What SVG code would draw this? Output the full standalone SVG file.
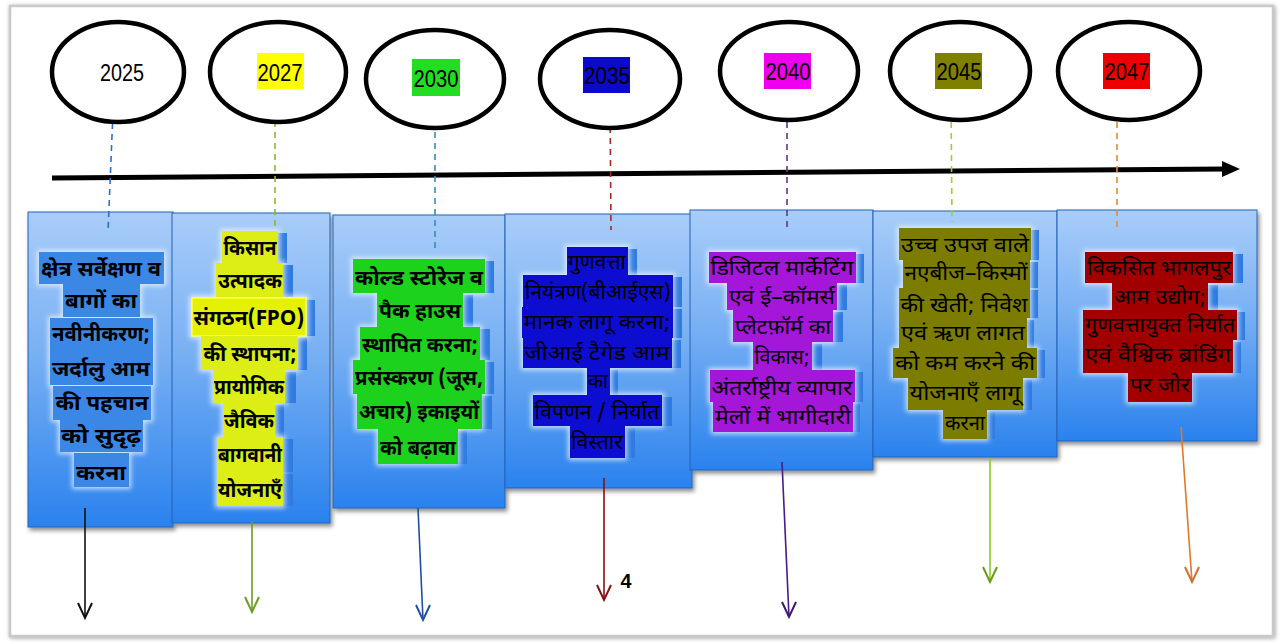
<svg xmlns="http://www.w3.org/2000/svg" width="1284" height="644" viewBox="0 0 1284 644">
<defs>
  <linearGradient id="boxg" x1="0" y1="0" x2="0" y2="1">
    <stop offset="0" stop-color="#a9cdf9"/>
    <stop offset="0.45" stop-color="#78b0f3"/>
    <stop offset="1" stop-color="#2a82ee"/>
  </linearGradient>
  <filter id="boxsh" x="-5%" y="-5%" width="115%" height="115%">
    <feGaussianBlur in="SourceAlpha" stdDeviation="2"/>
    <feOffset dx="2" dy="3" result="b"/>
    <feFlood flood-color="#000" flood-opacity="0.45"/>
    <feComposite in2="b" operator="in" result="s"/>
    <feMerge><feMergeNode in="s"/><feMergeNode in="SourceGraphic"/></feMerge>
  </filter>
  <filter id="glow" x="-10%" y="-10%" width="120%" height="120%">
    <feMorphology in="SourceAlpha" operator="dilate" radius="2"/>
    <feGaussianBlur stdDeviation="2.5" result="g"/>
    <feFlood flood-color="#e8f3ff" flood-opacity="0.8"/>
    <feComposite in2="g" operator="in" result="w"/>
    <feMerge><feMergeNode in="w"/><feMergeNode in="SourceGraphic"/></feMerge>
  </filter>
  <filter id="pagesh" x="-2%" y="-2%" width="104%" height="104%">
    <feGaussianBlur in="SourceAlpha" stdDeviation="2"/>
    <feOffset dx="1" dy="1" result="b"/>
    <feFlood flood-color="#777" flood-opacity="0.7"/>
    <feComposite in2="b" operator="in" result="s"/>
    <feMerge><feMergeNode in="s"/><feMergeNode in="SourceGraphic"/></feMerge>
  </filter>
</defs>
<style>
  .dv{font-family:"Noto Sans Devanagari","Lohit Devanagari","FreeSans","Noto Sans",sans-serif;font-size:20px;fill:#000;text-anchor:middle}
  .b{font-weight:bold;font-size:21px}
  .yr{font-family:"Liberation Sans Narrow","Liberation Sans",Arial,sans-serif;font-size:24px;fill:#000;text-anchor:middle}
  .ell{fill:#fff;stroke:#000;stroke-width:4.5}
  .box{fill:url(#boxg);stroke:#2563b8;stroke-width:1}
  .sh{fill:#2f7be0}
  .dash{fill:none;stroke-width:1.6;stroke-dasharray:6 5}
  .arr{fill:none;stroke-width:1.6}
  .head{fill:none;stroke-width:2;stroke-linejoin:miter}
</style>

<rect x="0" y="0" width="1284" height="644" fill="#fff"/>
<g id="page"><rect x="10" y="6" width="1263" height="630" fill="#fff" stroke="#c9c9c9" stroke-width="2.5" filter="url(#pagesh)"/></g>

<g id="boxes" filter="url(#boxsh)">
  <rect id="box1" class="box" x="28" y="212" width="145" height="315"/>
  <rect id="box2" class="box" x="172" y="213" width="158" height="310"/>
  <rect id="box3" class="box" x="333" y="215" width="172" height="293"/>
  <rect id="box4" class="box" x="505" y="214" width="187" height="274"/>
  <rect id="box5" class="box" x="690" y="210" width="183" height="260"/>
  <rect id="box6" class="box" x="873" y="211" width="184" height="246"/>
  <rect id="box7" class="box" x="1057" y="210" width="200" height="231"/>
</g>

<g id="axis">
  <line x1="52" y1="178" x2="1226" y2="169" stroke="#000" stroke-width="5"/>
  <polygon points="1222,161 1240,169 1222,177" fill="#000"/>
</g>

<g id="connectors">
  <path class="dash" stroke="#2b6fc8" d="M113 112 L108 232"/>
  <path class="dash" stroke="#8cb82a" d="M275 88 L275 226"/>
  <path class="dash" stroke="#3a8ab8" d="M435 110 L435 250"/>
  <path class="dash" stroke="#a02a2a" d="M610 94 L611 230"/>
  <path class="dash" stroke="#5a3a8a" d="M787 100 L787 232"/>
  <path class="dash" stroke="#9ad030" d="M951 100 L952 222"/>
  <path class="dash" stroke="#e08a3a" d="M1117 100 L1117 232"/>

  <line class="arr" stroke="#111" x1="85" y1="508" x2="85" y2="618"/>
  <path class="head" stroke="#111" d="M78 603 L85 618 L92 603"/>
  <line class="arr" stroke="#6a9e22" x1="252" y1="521" x2="252" y2="612"/>
  <path class="head" stroke="#6a9e22" d="M245 597 L252 612 L259 597"/>
  <line class="arr" stroke="#1f4fa0" x1="418" y1="508" x2="423" y2="620"/>
  <path class="head" stroke="#1f4fa0" d="M416 605 L423 620 L430 605"/>
  <line class="arr" stroke="#8a1010" x1="604" y1="478" x2="604" y2="600"/>
  <path class="head" stroke="#8a1010" d="M597 585 L604 600 L611 585"/>
  <line class="arr" stroke="#4a1a8a" x1="782" y1="462" x2="789" y2="617"/>
  <path class="head" stroke="#3a1a6a" d="M782 602 L789 617 L796 602"/>
  <line class="arr" stroke="#8ccc20" x1="990" y1="458" x2="990" y2="582"/>
  <path class="head" stroke="#6a9a18" d="M983 567 L990 582 L997 567"/>
  <line class="arr" stroke="#e07a2a" x1="1181" y1="427" x2="1192" y2="582"/>
  <path class="head" stroke="#d0702a" d="M1185 567 L1192 582 L1199 567"/>
</g>
<text x="626" y="588" font-family="Liberation Sans,sans-serif" font-size="21" font-weight="bold" fill="#000" text-anchor="middle" textLength="11" lengthAdjust="spacingAndGlyphs">4</text>

<g id="y2025"><ellipse class="ell" cx="118" cy="72" rx="66" ry="50"/><text class="yr" x="122" y="81" textLength="44" lengthAdjust="spacingAndGlyphs">2025</text></g>
<g id="y2027"><ellipse class="ell" cx="278" cy="72" rx="68" ry="50"/><rect x="257" y="53" width="47" height="36" fill="#ffff00"/><text class="yr" x="280" y="81" textLength="45" lengthAdjust="spacingAndGlyphs">2027</text></g>
<g id="y2030"><ellipse class="ell" cx="435" cy="79" rx="69" ry="49"/><rect x="412" y="59" width="48" height="37" fill="#22dd22"/><text class="yr" x="436" y="87" textLength="45" lengthAdjust="spacingAndGlyphs">2030</text></g>
<g id="y2035"><ellipse class="ell" cx="610" cy="79" rx="70" ry="49"/><rect x="583" y="57" width="47" height="36" fill="#0a0ac8"/><text class="yr" x="607" y="84" textLength="46" lengthAdjust="spacingAndGlyphs">2035</text></g>
<g id="y2040"><ellipse class="ell" cx="789" cy="71" rx="69" ry="49"/><rect x="764" y="53" width="47" height="36" fill="#ee00ee"/><text class="yr" x="788" y="80" textLength="45" lengthAdjust="spacingAndGlyphs">2040</text></g>
<g id="y2045"><ellipse class="ell" cx="960" cy="71" rx="70" ry="49"/><rect x="935" y="53" width="47" height="36" fill="#808000"/><text class="yr" x="959" y="80" textLength="45" lengthAdjust="spacingAndGlyphs">2045</text></g>
<g id="y2047"><ellipse class="ell" cx="1129" cy="71" rx="71" ry="49"/><rect x="1103" y="53" width="47" height="36" fill="#ee0000"/><text class="yr" x="1127" y="80" textLength="45" lengthAdjust="spacingAndGlyphs">2047</text></g>

<g id="text1">
  <g filter="url(#glow)" fill="#3a87e6">
    <rect x="39" y="252" width="125" height="32"/>
    <rect x="63" y="284" width="77" height="33"/>
    <rect x="50" y="318" width="103" height="67"/>
    <rect x="53" y="386" width="98" height="34"/>
    <rect x="60" y="420" width="83" height="32"/>
    <rect x="74" y="453" width="55" height="34"/>
  </g>
  <text class="dv b" x="101" y="276" textLength="120" lengthAdjust="spacingAndGlyphs">क्षेत्र सर्वेक्षण व</text>
  <text class="dv b" x="101" y="308" textLength="72" lengthAdjust="spacingAndGlyphs">बागों का</text>
  <text class="dv b" x="101" y="341" textLength="98" lengthAdjust="spacingAndGlyphs">नवीनीकरण;</text>
  <text class="dv b" x="101" y="376" textLength="98" lengthAdjust="spacingAndGlyphs">जर्दालु आम</text>
  <text class="dv b" x="102" y="410" textLength="93" lengthAdjust="spacingAndGlyphs">की पहचान</text>
  <text class="dv b" x="101" y="443" textLength="80" lengthAdjust="spacingAndGlyphs">को सुदृढ़</text>
  <text class="dv b" x="101" y="480" textLength="50" lengthAdjust="spacingAndGlyphs">करना</text>
</g>

<g id="text2">
  <g class="sh">
    <rect x="231" y="233" width="56" height="30"/>
    <rect x="226" y="265" width="67" height="32"/>
    <rect x="201" y="300" width="114" height="36"/>
    <rect x="210" y="338" width="97" height="32"/>
    <rect x="224" y="372" width="72" height="31"/>
    <rect x="232" y="405" width="52" height="32"/>
    <rect x="227" y="439" width="66" height="33"/>
    <rect x="227" y="474" width="66" height="32"/>
  </g>
  <g filter="url(#glow)" fill="#dcee12">
    <rect x="222" y="231" width="56" height="32"/>
    <rect x="216" y="263" width="67" height="34"/>
    <rect x="192" y="298" width="114" height="38" fill="#e4f200" stroke="#ffff40" stroke-width="1.5"/>
    <rect x="201" y="336" width="97" height="34"/>
    <rect x="213" y="370" width="72" height="33"/>
    <rect x="223" y="403" width="52" height="34"/>
    <rect x="217" y="437" width="66" height="35"/>
    <rect x="217" y="472" width="66" height="34"/>
  </g>
  <text class="dv b" x="250" y="255" textLength="53" lengthAdjust="spacingAndGlyphs">किसान</text>
  <text class="dv b" x="250" y="288" textLength="64" lengthAdjust="spacingAndGlyphs">उत्पादक</text>
  <text class="dv b" x="249" y="325" textLength="111" lengthAdjust="spacingAndGlyphs">संगठन(FPO)</text>
  <text class="dv b" x="250" y="361" textLength="93" lengthAdjust="spacingAndGlyphs">की स्थापना;</text>
  <text class="dv b" x="249" y="394" textLength="70" lengthAdjust="spacingAndGlyphs">प्रायोगिक</text>
  <text class="dv b" x="249" y="428" textLength="50" lengthAdjust="spacingAndGlyphs">जैविक</text>
  <text class="dv b" x="250" y="462" textLength="64" lengthAdjust="spacingAndGlyphs">बागवानी</text>
  <text class="dv b" x="250" y="497" textLength="64" lengthAdjust="spacingAndGlyphs">योजनाएँ</text>
</g>

<g id="text3">
  <g class="sh">
    <rect x="362" y="261" width="132" height="32"/>
    <rect x="387" y="295" width="86" height="32"/>
    <rect x="370" y="329" width="120" height="31"/>
    <rect x="362" y="362" width="132" height="32"/>
    <rect x="367" y="396" width="125" height="33"/>
    <rect x="387" y="431" width="80" height="33"/>
  </g>
  <g filter="url(#glow)" fill="#1fd21f">
    <rect x="353" y="259" width="132" height="34"/>
    <rect x="377" y="293" width="86" height="34"/>
    <rect x="360" y="327" width="120" height="33"/>
    <rect x="353" y="360" width="132" height="34"/>
    <rect x="357" y="394" width="125" height="35"/>
    <rect x="378" y="429" width="80" height="35"/>
  </g>
  <text class="dv b" x="419" y="285" textLength="128" lengthAdjust="spacingAndGlyphs">कोल्ड स्टोरेज व</text>
  <text class="dv b" x="420" y="318" textLength="82" lengthAdjust="spacingAndGlyphs">पैक हाउस</text>
  <text class="dv b" x="420" y="352" textLength="116" lengthAdjust="spacingAndGlyphs">स्थापित करना;</text>
  <text class="dv b" x="419" y="385" textLength="128" lengthAdjust="spacingAndGlyphs">प्रसंस्करण (जूस,</text>
  <text class="dv b" x="419" y="419" textLength="120" lengthAdjust="spacingAndGlyphs">अचार) इकाइयों</text>
  <text class="dv b" x="418" y="455" textLength="76" lengthAdjust="spacingAndGlyphs">को बढ़ावा</text>
</g>

<g id="text4">
  <g class="sh">
    <rect x="576" y="249" width="61" height="26"/>
    <rect x="532" y="277" width="150" height="30"/>
    <rect x="531" y="309" width="151" height="29"/>
    <rect x="532" y="340" width="149" height="28"/>
    <rect x="595" y="370" width="23" height="25"/>
    <rect x="543" y="397" width="129" height="29"/>
    <rect x="580" y="428" width="55" height="30"/>
  </g>
  <g filter="url(#glow)" fill="#0b0bd2">
    <rect x="567" y="247" width="61" height="28"/>
    <rect x="523" y="275" width="150" height="32"/>
    <rect x="522" y="307" width="151" height="31"/>
    <rect x="523" y="338" width="149" height="30"/>
    <rect x="587" y="368" width="23" height="27"/>
    <rect x="533" y="395" width="129" height="31"/>
    <rect x="570" y="426" width="55" height="32"/>
  </g>
  <text class="dv" x="597" y="269" textLength="58" lengthAdjust="spacingAndGlyphs">गुणवत्ता</text>
  <text class="dv" x="598" y="299" textLength="146" lengthAdjust="spacingAndGlyphs">नियंत्रण(बीआईएस)</text>
  <text class="dv" x="597" y="329" textLength="147" lengthAdjust="spacingAndGlyphs">मानक लागू करना;</text>
  <text class="dv" x="597" y="360" textLength="145" lengthAdjust="spacingAndGlyphs">जीआई टैगेड आम</text>
  <text class="dv" x="598" y="388" textLength="20" lengthAdjust="spacingAndGlyphs">का</text>
  <text class="dv" x="597" y="419" textLength="125" lengthAdjust="spacingAndGlyphs">विपणन / निर्यात</text>
  <text class="dv" x="597" y="449" textLength="52" lengthAdjust="spacingAndGlyphs">विस्तार</text>
</g>

<g id="text5">
  <g class="sh">
    <rect x="718" y="254" width="146" height="29"/>
    <rect x="737" y="285" width="110" height="25"/>
    <rect x="743" y="312" width="100" height="30"/>
    <rect x="763" y="344" width="59" height="26"/>
    <rect x="718" y="372" width="145" height="30"/>
    <rect x="720" y="404" width="140" height="28"/>
  </g>
  <g filter="url(#glow)" fill="#a418d8">
    <rect x="709" y="252" width="147" height="31"/>
    <rect x="727" y="283" width="110" height="27"/>
    <rect x="733" y="310" width="100" height="32"/>
    <rect x="753" y="342" width="59" height="28"/>
    <rect x="710" y="370" width="145" height="32"/>
    <rect x="713" y="402" width="140" height="30"/>
  </g>
  <text class="dv" x="782" y="275" textLength="143" lengthAdjust="spacingAndGlyphs">डिजिटल मार्केटिंग</text>
  <text class="dv" x="782" y="304" textLength="106" lengthAdjust="spacingAndGlyphs">एवं ई–कॉमर्स</text>
  <text class="dv" x="783" y="334" textLength="96" lengthAdjust="spacingAndGlyphs">प्लेटफ़ॉर्म का</text>
  <text class="dv" x="782" y="364" textLength="55" lengthAdjust="spacingAndGlyphs">विकास;</text>
  <text class="dv" x="782" y="395" textLength="141" lengthAdjust="spacingAndGlyphs">अंतर्राष्ट्रीय व्यापार</text>
  <text class="dv" x="783" y="424" textLength="136" lengthAdjust="spacingAndGlyphs">मेलों में भागीदारी</text>
</g>

<g id="text6">
  <g class="sh">
    <rect x="908" y="230" width="131" height="30"/>
    <rect x="912" y="262" width="126" height="26"/>
    <rect x="908" y="290" width="130" height="28"/>
    <rect x="906" y="320" width="128" height="28"/>
    <rect x="902" y="350" width="143" height="28"/>
    <rect x="917" y="380" width="115" height="30"/>
    <rect x="952" y="412" width="43" height="27"/>
  </g>
  <g filter="url(#glow)" fill="#7b7b04">
    <rect x="899" y="228" width="132" height="32"/>
    <rect x="903" y="260" width="127" height="28"/>
    <rect x="899" y="288" width="131" height="30"/>
    <rect x="899" y="318" width="128" height="30"/>
    <rect x="893" y="348" width="144" height="30"/>
    <rect x="908" y="378" width="115" height="32"/>
    <rect x="943" y="410" width="44" height="29"/>
  </g>
  <text class="dv" x="965" y="252" textLength="128" lengthAdjust="spacingAndGlyphs">उच्च उपज वाले</text>
  <text class="dv" x="966" y="280" textLength="123" lengthAdjust="spacingAndGlyphs">नएबीज–किस्मों</text>
  <text class="dv" x="964" y="312" textLength="127" lengthAdjust="spacingAndGlyphs">की खेती; निवेश</text>
  <text class="dv" x="963" y="340" textLength="124" lengthAdjust="spacingAndGlyphs">एवं ऋण लागत</text>
  <text class="dv" x="965" y="370" textLength="140" lengthAdjust="spacingAndGlyphs">को कम करने की</text>
  <text class="dv" x="965" y="400" textLength="111" lengthAdjust="spacingAndGlyphs">योजनाएँ लागू</text>
  <text class="dv" x="965" y="430" textLength="40" lengthAdjust="spacingAndGlyphs">करना</text>
</g>

<g id="text7">
  <g class="sh">
    <rect x="1095" y="254" width="148" height="29"/>
    <rect x="1122" y="285" width="96" height="25"/>
    <rect x="1091" y="312" width="154" height="28"/>
    <rect x="1091" y="342" width="150" height="31"/>
    <rect x="1131" y="375" width="64" height="27"/>
  </g>
  <g filter="url(#glow)" fill="#a20000">
    <rect x="1085" y="252" width="148" height="31"/>
    <rect x="1112" y="283" width="96" height="27"/>
    <rect x="1083" y="310" width="154" height="30"/>
    <rect x="1083" y="340" width="150" height="33"/>
    <rect x="1128" y="373" width="64" height="29"/>
  </g>
  <text class="dv" x="1159" y="275" textLength="144" lengthAdjust="spacingAndGlyphs">विकसित भागलपुर</text>
  <text class="dv" x="1160" y="304" textLength="92" lengthAdjust="spacingAndGlyphs">आम उद्योग;</text>
  <text class="dv" x="1160" y="332" textLength="150" lengthAdjust="spacingAndGlyphs">गुणवत्तायुक्त निर्यात</text>
  <text class="dv" x="1158" y="362" textLength="146" lengthAdjust="spacingAndGlyphs">एवं वैश्विक ब्रांडिंग</text>
  <text class="dv" x="1160" y="392" textLength="60" lengthAdjust="spacingAndGlyphs">पर जोर</text>
</g>
</svg>
